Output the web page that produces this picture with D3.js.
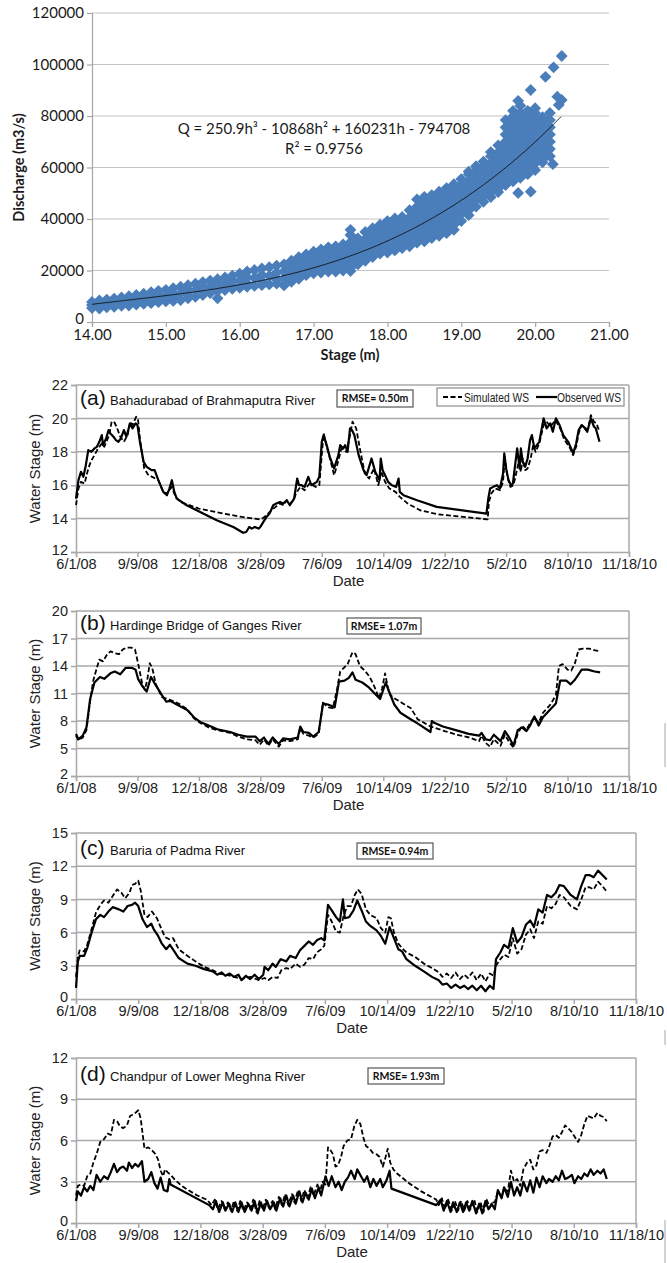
<!DOCTYPE html>
<html>
<head>
<meta charset="utf-8">
<script src="https://cdn.jsdelivr.net/npm/d3@7"></script>
<style>
  body { margin: 0; background: #fff; }
  svg { display: block; }
</style>
</head>
<body>
<script>
var width = 667, height = 1263;

// ---------- rating curve (stage m, discharge m3/s) ----------
var ratingStages = [14.0, 14.1, 14.2, 14.3, 14.4, 14.5, 14.6, 14.7, 14.8, 14.9,
  15.0, 15.1, 15.2, 15.3, 15.4, 15.5, 15.6, 15.7, 15.8, 15.9,
  16.0, 16.1, 16.2, 16.3, 16.4, 16.5, 16.6, 16.7, 16.8, 16.9,
  17.0, 17.1, 17.2, 17.3, 17.4, 17.5, 17.6, 17.7, 17.8, 17.9,
  18.0, 18.1, 18.2, 18.3, 18.4, 18.5, 18.6, 18.7, 18.8, 18.9,
  19.0, 19.1, 19.2, 19.3, 19.4, 19.5, 19.6, 19.7, 19.8, 19.9,
  20.0, 20.1, 20.2];
var ratingQ = [
  [5400, 6600, 7800], [5200, 6000, 7200, 8400], [5700, 7200, 8700], [5900, 6600, 7900, 9100], [6300, 7900, 9500],
  [6400, 7300, 8700, 10000], [6800, 8600, 10500], [7100, 8000, 9500, 11000], [7300, 9400, 11600], [7700, 8700, 10400, 12100],
  [8000, 10200, 12500], [8200, 9500, 11300, 13100], [8500, 11100, 13700], [9200, 10500, 12400, 14300], [9800, 12300, 14900],
  [10500, 11700, 13600, 15500], [11200, 13700, 16100], [9200, 12000, 13400, 15000, 16600], [12400, 14800, 17300], [12900, 14200, 16100, 18000],
  [13300, 16000, 18800], [13700, 15000, 17300, 19600], [14000, 17100, 20200], [14300, 15800, 18300, 20800], [14600, 17900, 21300],
  [14900, 16500, 19200, 21900],
  [14200, 16800, 19600, 22400], [15600, 18200, 21000, 23800], [16800, 19600, 22400, 25200], [18200, 21000, 23800, 26200],
  [18900, 19600, 22400, 25200, 27300], [19200, 21000, 23800, 26600, 28200], [19600, 22400, 25200, 28000, 29000], [19600, 21000, 23800, 26600, 29400],
  [20000, 22400, 25200, 28000, 30100], [19800, 21000, 23800, 26600, 29400, 31000, 33800, 35800], [22400, 25200, 28000, 30800, 32500],
  [23800, 26600, 29400, 32200, 35000], [25200, 28000, 30800, 33600, 36400], [26600, 29400, 32200, 35000, 37800],
  [27000, 28000, 30800, 33600, 36400, 39200], [27800, 29400, 32200, 35000, 37800, 40200], [28700, 30800, 33600, 36400, 39200, 40800],
  [29400, 32200, 35000, 37800, 40600, 43400], [30800, 33600, 36400, 39200, 42000, 44800, 47600],
  [31300, 32200, 35000, 37800, 40600, 43400, 46200, 48600], [32600, 33600, 36400, 39200, 42000, 44800, 47600, 49300],
  [33500, 35000, 37800, 40600, 43400, 46200, 49000, 50600], [34500, 36400, 39200, 42000, 44800, 47600, 50400, 52000],
  [35800, 37800, 40600, 43400, 46200, 49000, 51800, 53500], [39200, 42000, 44800, 47600, 50400, 53200, 55500],
  [41500, 43400, 46200, 49000, 51800, 54600, 57400, 58400], [44800, 47600, 50400, 53200, 56000, 58800, 60500],
  [46700, 49000, 51800, 54600, 57400, 60200, 62300], [48500, 50400, 53200, 56000, 58800, 61600, 64400, 66000],
  [50500, 51800, 54600, 57400, 60200, 63000, 65800, 68600],
  [53200, 56000, 58800, 61600, 64400, 67200, 70000, 72800, 75600, 78400],
  [54600, 57400, 60200, 63000, 65800, 68600, 71400, 74200, 77000, 79800, 82000],
  [56000, 58800, 61600, 64400, 67200, 70000, 72800, 75600, 78400, 81200, 84000],
  [57400, 60200, 63000, 65800, 68600, 71400, 74200, 77000, 79800, 82000],
  [59000, 61600, 64400, 67200, 70000, 72800, 75600, 78400, 81200, 83000],
  [62000, 63000, 65800, 68600, 71400, 74200, 77000, 79500],
  [64400, 67200, 70000, 72800, 75600, 78400, 81200]
];
var ratingOutliers = [[20.36, 103300], [20.25, 98900], [20.14, 95200], [19.94, 90100], [20.30, 87500],
  [20.36, 86200], [20.32, 84300], [19.77, 85900], [20.24, 61300], [19.94, 50600], [19.77, 50100]];
var trendCoef = [250.9, -10868, 160231, -794708];
var stageTicks = [14, 15, 16, 17, 18, 19, 20, 21];
var dischargeTicks = [0, 20000, 40000, 60000, 80000, 100000, 120000];

// ---------- water stage series: [days after 6/1/08, stage m] ----------
var dateTickDays = [0, 100, 200, 300, 400, 500, 600, 700, 800, 900];

var obsA = [[0,15.2],[4,16.3],[8,16.8],[12,16.5],[16,17.2],[20,18.1],[25,18.0],[30,18.2],[34,18.3],[38,18.6],[42,19.0],[44,18.4],[49,18.8],[53,19.3],[56,19.1],[61,18.9],[65,18.7],[69,18.6],[73,18.8],[78,19.3],[82,18.9],[88,19.7],[92,19.4],[97,19.7],[100,19.6],[104,18.6],[110,17.4],[115,17.1],[123,16.9],[128,16.9],[134,16.3],[142,15.6],[148,15.4],[152,15.8],[156,16.3],[160,15.6],[164,15.2],[180,14.8],[202,14.4],[229,13.9],[256,13.5],[272,13.15],[277,13.2],[282,13.5],[286,13.4],[291,13.5],[297,13.4],[300,13.5],[305,13.8],[310,14.1],[315,14.3],[321,14.8],[326,14.9],[332,15.0],[337,14.9],[343,15.1],[348,14.8],[355,15.2],[360,16.4],[363,16.0],[367,16.0],[372,15.9],[378,16.5],[383,16.0],[392,16.2],[396,16.5],[400,18.6],[403,19.0],[408,18.4],[413,17.7],[420,17.0],[427,17.8],[430,18.4],[435,18.2],[438,18.4],[442,18.0],[446,19.4],[449,19.3],[453,19.0],[460,17.8],[468,16.9],[473,16.6],[481,17.6],[487,16.8],[494,16.3],[496,17.6],[499,16.9],[503,16.6],[508,16.2],[514,16.0],[521,15.9],[525,16.4],[527,15.6],[533,15.4],[555,15.1],[587,14.7],[668,14.3],[671,15.2],[674,15.8],[679,15.9],[685,16.0],[690,15.8],[695,16.7],[697,17.9],[700,17.0],[704,16.3],[708,16.0],[711,16.1],[715,17.3],[718,18.2],[722,17.0],[724,18.2],[727,17.4],[731,17.1],[735,17.6],[739,18.7],[742,19.0],[746,18.2],[750,18.4],[754,18.6],[761,20.0],[766,19.4],[772,19.7],[776,19.2],[781,20.0],[787,19.6],[793,19.0],[801,18.6],[807,18.1],[809,17.9],[814,18.5],[818,19.3],[823,19.6],[829,19.4],[832,19.2],[838,20.0],[843,19.5],[846,19.4],[852,18.6]];
var simA = [[0,14.8],[4,15.8],[8,16.2],[14,16.1],[20,17.0],[24,17.4],[30,17.8],[36,18.2],[42,18.5],[46,18.3],[54,19.0],[58,19.8],[62,19.8],[66,19.5],[72,18.9],[78,18.6],[84,19.0],[88,19.8],[92,19.6],[98,20.1],[101,19.9],[104,18.8],[111,17.0],[118,16.6],[124,16.5],[134,16.3],[142,15.6],[148,15.5],[156,15.9],[162,15.3],[170,15.0],[200,14.6],[240,14.3],[270,14.1],[299,13.95],[303,14.0],[310,14.2],[318,14.5],[325,14.7],[332,14.9],[338,14.8],[343,15.1],[348,14.9],[354,15.1],[358,15.5],[365,15.9],[372,15.7],[380,16.1],[390,15.9],[396,16.0],[400,17.8],[403,19.1],[408,18.3],[414,17.5],[420,16.6],[425,17.2],[432,18.2],[440,18.0],[446,19.0],[450,19.8],[456,19.4],[462,18.2],[470,16.7],[477,16.4],[485,17.0],[492,16.0],[497,16.8],[503,16.2],[510,15.8],[520,15.6],[527,15.3],[540,14.9],[560,14.5],[590,14.25],[670,13.95],[672,15.0],[676,15.5],[682,15.8],[690,15.7],[695,16.2],[698,17.7],[702,16.5],[707,15.9],[712,16.0],[717,16.8],[721,17.5],[724,16.8],[727,17.6],[731,16.9],[735,17.0],[740,17.6],[744,18.4],[748,18.0],[754,18.5],[761,19.6],[766,19.8],[772,19.5],[780,19.9],[788,19.4],[795,18.7],[803,18.3],[809,17.8],[814,18.3],[818,19.1],[823,19.6],[830,19.3],[834,19.5],[838,20.2],[843,19.8],[847,19.7],[852,19.2]];

var obsB = [[0,6.6],[4,6.0],[11,6.4],[17,7.3],[23,10.4],[30,12.2],[39,12.8],[46,12.6],[56,13.2],[63,13.4],[72,13.1],[81,13.8],[91,13.8],[97,13.6],[101,12.6],[108,11.8],[115,11.2],[122,12.8],[129,12.0],[140,10.8],[147,10.1],[153,10.2],[167,9.7],[181,9.2],[192,8.4],[202,7.9],[216,7.5],[230,7.1],[251,6.8],[264,6.5],[278,6.3],[292,6.3],[299,5.8],[306,6.2],[313,5.5],[320,6.2],[330,5.5],[337,6.1],[348,6.0],[361,6.2],[365,7.4],[370,6.8],[379,6.7],[386,6.3],[395,6.8],[402,9.9],[410,9.8],[421,9.5],[428,12.3],[437,12.4],[444,12.7],[450,13.3],[455,12.5],[466,12.2],[476,11.7],[486,11.0],[495,10.4],[504,12.2],[509,11.3],[518,9.8],[528,8.9],[542,8.3],[559,7.6],[577,6.8],[579,8.0],[583,7.8],[597,7.4],[618,7.0],[639,6.6],[656,6.4],[660,6.7],[667,6.0],[674,5.9],[680,6.5],[691,5.8],[698,6.9],[705,6.2],[712,5.3],[719,7.0],[726,7.3],[733,6.9],[739,7.5],[746,8.5],[753,7.5],[760,8.4],[771,9.2],[781,9.9],[788,12.4],[798,12.4],[805,12.0],[812,12.5],[823,13.6],[833,13.6],[844,13.4],[853,13.3]];
var simB = [[0,6.4],[4,5.9],[11,6.2],[17,7.0],[23,10.2],[28,12.4],[33,13.6],[38,14.7],[44,14.5],[50,15.2],[56,15.6],[63,15.4],[70,15.3],[76,15.8],[82,16.0],[90,16.0],[96,15.8],[101,14.3],[108,12.0],[112,11.4],[116,12.5],[120,14.3],[124,13.8],[130,12.0],[140,10.6],[150,10.4],[167,9.9],[181,9.3],[192,8.3],[202,7.8],[216,7.3],[230,7.0],[251,6.7],[264,6.3],[278,6.0],[292,5.9],[299,5.4],[306,6.0],[313,5.3],[320,6.0],[330,5.2],[337,5.9],[348,5.8],[361,6.0],[365,7.2],[370,6.6],[379,6.4],[386,6.2],[395,6.6],[402,10.0],[410,9.5],[418,9.4],[425,11.5],[430,13.4],[436,13.8],[442,14.2],[450,15.5],[455,15.3],[462,14.0],[470,13.5],[478,12.8],[486,11.7],[493,10.5],[498,11.5],[503,13.2],[508,11.5],[512,10.8],[520,10.4],[530,10.0],[545,9.4],[556,8.2],[577,7.4],[600,6.9],[620,6.5],[640,6.2],[656,5.8],[660,6.4],[667,5.6],[674,5.2],[680,6.0],[691,5.3],[698,6.5],[705,5.7],[712,5.1],[719,6.6],[726,7.5],[733,7.0],[739,7.8],[746,8.4],[753,7.8],[760,8.9],[771,9.7],[781,10.8],[786,14.0],[792,14.2],[800,13.6],[806,13.5],[812,14.3],[818,15.8],[825,15.9],[835,15.9],[845,15.7],[853,15.6]];

var obsC = [[0,1.0],[3,3.4],[6,3.9],[13,3.9],[18,4.6],[25,6.0],[32,7.2],[39,7.6],[45,7.4],[52,7.9],[59,8.3],[69,8.1],[76,7.9],[83,8.4],[90,8.5],[95,8.7],[100,8.4],[107,7.2],[114,6.5],[121,6.8],[125,6.3],[132,5.7],[138,5.0],[145,4.5],[151,4.9],[158,4.3],[165,3.7],[179,3.2],[192,3.0],[206,2.7],[220,2.5],[227,2.2],[234,2.4],[240,2.1],[247,2.3],[254,2.0],[261,2.2],[266,1.7],[273,2.1],[280,1.8],[287,2.2],[294,1.8],[301,2.2],[303,2.9],[309,2.6],[316,3.2],[321,2.9],[329,3.6],[338,3.4],[344,3.9],[353,3.7],[360,4.4],[367,4.8],[374,5.2],[381,4.9],[387,5.3],[394,5.5],[399,5.3],[405,8.5],[411,8.0],[418,7.4],[424,7.0],[429,9.0],[432,7.3],[439,7.4],[446,8.0],[452,8.9],[459,8.0],[466,7.0],[473,6.6],[483,6.2],[490,5.7],[497,5.0],[504,6.5],[511,5.5],[518,4.5],[524,4.3],[531,3.6],[545,3.0],[559,2.5],[572,2.0],[583,1.7],[589,1.3],[596,1.4],[603,1.0],[610,1.3],[617,1.0],[624,1.2],[630,0.9],[637,1.2],[644,0.8],[651,1.2],[658,0.7],[665,1.2],[671,0.9],[675,3.6],[682,4.2],[688,4.9],[695,4.6],[702,6.4],[709,5.1],[716,5.6],[723,6.7],[730,7.1],[736,6.5],[743,8.1],[750,7.8],[757,9.4],[764,9.2],[771,9.6],[777,10.3],[784,10.2],[795,9.4],[805,9.0],[812,10.2],[819,11.2],[825,11.2],[832,11.0],[839,11.6],[846,11.2],[853,10.8]];
var simC = [[0,2.0],[3,3.8],[6,4.4],[13,4.3],[18,4.9],[25,6.3],[32,7.8],[39,8.5],[45,8.9],[52,8.7],[59,9.3],[66,9.9],[73,9.6],[79,9.1],[86,9.6],[90,10.3],[95,10.4],[100,10.7],[104,9.8],[110,7.6],[115,7.4],[122,7.9],[130,7.3],[136,6.5],[143,5.6],[150,5.4],[156,5.5],[165,4.5],[179,3.9],[192,3.4],[206,2.9],[220,2.6],[230,2.3],[240,2.2],[254,2.0],[266,1.8],[280,2.0],[294,1.7],[303,1.9],[309,1.7],[316,2.0],[324,1.9],[330,2.6],[338,2.8],[344,2.7],[353,3.2],[360,2.9],[367,3.1],[374,3.7],[381,3.6],[387,4.2],[394,4.5],[399,4.8],[405,7.6],[411,7.0],[418,6.1],[424,6.0],[430,7.5],[436,8.4],[442,8.4],[448,9.4],[453,9.9],[459,9.5],[466,8.1],[473,7.6],[483,7.3],[490,6.4],[497,6.0],[502,7.4],[506,7.3],[511,6.0],[518,5.0],[524,4.6],[531,4.2],[545,3.8],[559,3.2],[572,2.8],[583,2.4],[589,2.0],[596,2.3],[603,1.9],[610,2.4],[617,1.8],[624,2.2],[630,1.9],[637,2.4],[644,1.7],[651,2.3],[658,1.6],[665,2.3],[671,2.1],[675,3.0],[682,3.6],[688,4.0],[695,3.8],[702,5.5],[709,4.1],[716,4.5],[723,5.8],[730,6.3],[736,5.5],[743,7.0],[750,6.8],[757,8.4],[764,8.2],[771,8.6],[777,9.4],[784,9.2],[795,8.4],[805,8.1],[812,9.0],[819,10.1],[825,10.1],[832,9.9],[839,10.6],[846,10.2],[853,9.7]];

var obsD = [[0,1.6],[3,2.3],[8,2.0],[13,2.6],[18,2.3],[23,2.7],[28,2.4],[33,3.5],[39,3.0],[45,3.4],[51,3.2],[56,3.7],[61,4.3],[66,3.7],[71,4.0],[76,4.1],[82,3.8],[85,4.4],[90,4.0],[95,4.3],[100,4.1],[106,4.5],[110,3.0],[116,3.2],[121,3.7],[126,2.9],[131,2.5],[136,3.3],[141,2.4],[147,2.3],[150,3.2],[152,2.8],[214,1.3],[220,1.0],[225,1.6],[230,0.8],[236,1.5],[240,0.9],[246,1.4],[251,0.8],[256,1.5],[261,0.8],[266,1.5],[271,0.8],[277,1.4],[282,0.9],[287,1.6],[292,0.7],[297,1.5],[302,0.9],[307,1.6],[312,1.0],[318,1.5],[322,0.9],[328,1.8],[333,1.2],[338,2.0],[343,1.2],[349,2.0],[353,1.4],[359,2.3],[364,1.5],[369,2.2],[374,1.7],[379,2.5],[384,1.8],[390,2.6],[394,2.0],[401,3.4],[406,2.7],[411,3.4],[417,2.6],[422,3.0],[427,2.4],[432,3.0],[437,3.3],[442,3.8],[448,3.2],[452,3.9],[458,3.4],[463,3.0],[468,3.4],[473,2.6],[478,3.2],[483,2.7],[489,3.2],[493,2.6],[499,3.1],[504,3.8],[507,2.5],[579,1.3],[586,1.7],[591,0.9],[596,1.6],[602,0.8],[606,1.5],[612,0.8],[617,1.5],[622,0.8],[627,1.5],[632,0.9],[637,1.6],[643,0.7],[648,1.4],[653,0.7],[658,1.6],[663,1.0],[668,1.4],[673,1.0],[678,2.4],[684,1.8],[688,2.6],[694,1.9],[699,3.0],[704,2.0],[709,2.6],[714,2.0],[719,3.0],[725,2.3],[730,3.1],[735,2.2],[740,3.3],[745,2.6],[750,3.4],[756,2.9],[760,3.2],[766,3.0],[771,3.4],[776,3.1],[781,3.8],[786,3.2],[791,3.3],[797,3.5],[801,2.9],[807,3.4],[812,3.2],[817,3.6],[822,3.4],[827,3.9],[832,3.5],[838,3.8],[843,3.6],[848,3.9],[853,3.2]];
var simD = [[0,2.0],[3,2.7],[8,2.8],[13,2.7],[18,3.4],[23,3.6],[28,4.4],[33,5.0],[39,5.9],[45,6.1],[51,6.5],[56,6.4],[61,7.5],[66,7.4],[71,7.0],[76,6.9],[82,7.1],[87,7.8],[93,7.9],[100,8.2],[104,7.6],[110,5.4],[116,5.5],[122,5.3],[128,5.0],[132,4.6],[136,3.8],[140,3.4],[143,3.9],[147,3.7],[152,3.5],[160,3.1],[170,2.7],[180,2.4],[195,2.0],[210,1.7],[218,1.3],[223,1.7],[228,1.0],[234,1.6],[239,1.0],[244,1.5],[249,0.9],[254,1.6],[259,0.9],[264,1.6],[269,0.9],[275,1.5],[280,1.0],[285,1.7],[290,0.8],[295,1.6],[300,1.0],[305,1.7],[310,1.1],[316,1.6],[320,1.0],[326,1.9],[331,1.3],[336,2.1],[341,1.3],[347,2.1],[351,1.5],[357,2.4],[362,1.6],[367,2.4],[372,1.8],[377,2.6],[382,2.0],[388,2.8],[392,2.2],[396,3.0],[401,2.8],[405,5.5],[409,5.3],[413,5.0],[417,4.1],[421,4.2],[426,4.8],[430,5.6],[436,6.0],[442,6.1],[447,7.0],[452,7.5],[457,7.2],[462,6.2],[466,5.6],[472,5.4],[477,5.1],[483,5.0],[488,4.8],[493,4.1],[497,4.7],[501,5.4],[505,4.4],[510,3.9],[516,3.6],[535,2.9],[555,2.3],[579,1.7],[583,1.3],[588,1.8],[593,1.0],[598,1.7],[604,0.9],[609,1.6],[614,0.9],[619,1.6],[624,0.9],[629,1.6],[634,1.0],[640,1.7],[645,0.8],[650,1.5],[655,0.8],[660,1.7],[665,1.1],[670,1.5],[673,1.5],[678,2.3],[684,1.9],[688,2.5],[694,2.3],[699,3.8],[704,3.0],[709,3.2],[714,2.7],[719,3.9],[725,4.4],[730,4.6],[735,3.9],[740,4.2],[745,5.2],[750,5.3],[756,5.1],[760,5.5],[766,6.3],[771,6.4],[776,6.2],[781,6.6],[786,7.1],[791,6.9],[797,6.6],[801,6.3],[807,5.9],[812,6.4],[817,7.2],[822,7.8],[827,7.7],[832,7.6],[838,8.0],[843,7.8],[848,7.7],[853,7.4]];

var panelLetters = ["(a)", "(b)", "(c)", "(d)"];
var panelNames = ["Bahadurabad of Brahmaputra River", "Hardinge Bridge of Ganges River",
  "Baruria of Padma River", "Chandpur of Lower Meghna River"];
var rmseLabels = ["RMSE= 0.50m", "RMSE= 1.07m", "RMSE= 0.94m", "RMSE= 1.93m"];
var stageDomains = [[12, 22], [2, 20], [0, 15], [0, 12]];
var stageTickValues = [[12, 14, 16, 18, 20, 22], [2, 5, 8, 11, 14, 17, 20], [0, 3, 6, 9, 12, 15], [0, 3, 6, 9, 12]];
var obsSeries = [obsA, obsB, obsC, obsD];
var simSeries = [simA, simB, simC, simD];
var legendLabels = ["Simulated WS", "Observed WS"];

// ---------- drawing ----------
var svg = d3.select("body").append("svg")
    .attr("width", width)
    .attr("height", height);

var excelFont = "Lato, 'Open Sans', sans-serif";
var arialFont = "'Liberation Sans', Arial, sans-serif";

// rating curve scatter
var sx = d3.scaleLinear().domain([14, 21]).range([92, 609]);
var sy = d3.scaleLinear().domain([0, 120000]).range([322, 13]);

var top0 = svg.append("g");

top0.selectAll(".grid").data(dischargeTicks.slice(1)).enter().append("line")
    .attr("x1", sx(14)).attr("x2", sx(21))
    .attr("y1", function(d) { return sy(d); })
    .attr("y2", function(d) { return sy(d); })
    .attr("stroke", "#c3c3c3").attr("stroke-width", 1.2);

var syAxis = top0.append("g").attr("transform", "translate(" + sx(14) + ",0)")
    .call(d3.axisLeft(sy).tickValues(dischargeTicks).tickFormat(d3.format("d")).tickSize(5).tickPadding(3));
var sxAxis = top0.append("g").attr("transform", "translate(0," + sy(0) + ")")
    .call(d3.axisBottom(sx).tickValues(stageTicks).tickFormat(d3.format(".2f")).tickSize(5).tickPadding(2));
[syAxis, sxAxis].forEach(function(a) {
  a.select(".domain").attr("stroke", "#a6a6a6").attr("stroke-width", 1.2);
  a.selectAll(".tick line").attr("stroke", "#a6a6a6").attr("stroke-width", 1.2);
  a.selectAll("text").attr("font-family", excelFont).attr("font-size", 15).attr("fill", "#1a1a1a");
});
// lift the "0" label slightly, as in the source chart
syAxis.selectAll(".tick text").filter(function(d) { return d === 0; }).attr("dy", "0.1em");

var ratingPts = [];
ratingStages.forEach(function(h, i) {
  ratingQ[i].forEach(function(q) { ratingPts.push([h, q]); });
});
ratingPts = ratingPts.concat(ratingOutliers);

var diamond = d3.symbol().type(d3.symbolSquare).size(70);
top0.append("g").selectAll("path").data(ratingPts).enter().append("path")
    .attr("d", diamond)
    .attr("transform", function(d) { return "translate(" + sx(d[0]) + "," + sy(d[1]) + ") rotate(45)"; })
    .attr("fill", "#4a7ebb");

function trendQ(h) {
  return trendCoef[0] * h * h * h + trendCoef[1] * h * h + trendCoef[2] * h + trendCoef[3];
}
var trendPts = d3.range(14.0, 20.351, 0.025).map(function(h) { return [h, trendQ(h)]; });
top0.append("path")
    .datum(trendPts)
    .attr("d", d3.line().x(function(d) { return sx(d[0]); }).y(function(d) { return sy(d[1]); }))
    .attr("fill", "none").attr("stroke", "#111").attr("stroke-width", 0.9);

top0.append("text").attr("x", 324).attr("y", 134).attr("text-anchor", "middle")
    .attr("font-family", excelFont).attr("font-size", 15).attr("fill", "#1a1a1a")
    .text("Q = 250.9h\u00b3 - 10868h\u00b2 + 160231h - 794708");
top0.append("text").attr("x", 324).attr("y", 154).attr("text-anchor", "middle")
    .attr("font-family", excelFont).attr("font-size", 15).attr("fill", "#1a1a1a")
    .text("R\u00b2 = 0.9756");

top0.append("text")
    .attr("transform", "translate(24," + ((sy(0) + sy(120000)) / 2) + ") rotate(-90)")
    .attr("text-anchor", "middle")
    .attr("font-family", excelFont).attr("font-size", 14.5).attr("font-weight", "bold").attr("fill", "#1a1a1a")
    .text("Discharge (m3/s)");
top0.append("text").attr("x", 350).attr("y", 360).attr("text-anchor", "middle")
    .attr("font-family", excelFont).attr("font-size", 14.5).attr("font-weight", "bold").attr("fill", "#1a1a1a")
    .text("Stage (m)");

// water stage panels
var panelBox = [
  { top: 385, bottom: 552, left: 76, right: 629, titleDy: 20, rmse: [337, 390, 76, 17] },
  { top: 611, bottom: 776, left: 76, right: 629, titleDy: 19, rmse: [347, 618, 74, 16] },
  { top: 833, bottom: 999, left: 76, right: 636, titleDy: 22, rmse: [357, 843, 76, 16] },
  { top: 1058, bottom: 1223, left: 76, right: 636, titleDy: 23, rmse: [368, 1068, 76, 16] }
];

var startDate = new Date(2008, 5, 1);
function dayToDate(n) { return d3.timeDay.offset(startDate, n); }
var fmtDate = d3.timeFormat("%-m/%-d/%y");

panelBox.forEach(function(p, i) {
  var g = svg.append("g");
  var x = d3.scaleTime().domain([dayToDate(0), dayToDate(900)]).range([p.left, p.right]);
  var y = d3.scaleLinear().domain(stageDomains[i]).range([p.bottom, p.top]);

  g.selectAll(".grid").data(stageTickValues[i].slice(1)).enter().append("line")
      .attr("x1", p.left).attr("x2", p.right)
      .attr("y1", function(d) { return y(d); })
      .attr("y2", function(d) { return y(d); })
      .attr("stroke", "#a9a9a9").attr("stroke-width", 1.5);
  g.append("line")
      .attr("x1", p.right).attr("x2", p.right).attr("y1", p.top).attr("y2", p.bottom)
      .attr("stroke", "#a9a9a9").attr("stroke-width", 1.5);

  var ya = g.append("g").attr("transform", "translate(" + p.left + ",0)")
      .call(d3.axisLeft(y).tickValues(stageTickValues[i]).tickSize(5).tickPadding(3));
  var xa = g.append("g").attr("transform", "translate(0," + p.bottom + ")")
      .call(d3.axisBottom(x).tickValues(dateTickDays.map(dayToDate)).tickFormat(fmtDate).tickSize(5).tickPadding(2));
  [ya, xa].forEach(function(a) {
    a.select(".domain").attr("stroke", "#a9a9a9").attr("stroke-width", 1.5);
    a.selectAll(".tick line").attr("stroke", "#a9a9a9").attr("stroke-width", 1.5);
    a.selectAll("text").attr("font-family", arialFont).attr("font-size", 14.5).attr("fill", "#222");
  });
  // bottom stage label sits a touch higher, clear of the date labels
  ya.selectAll(".tick text").filter(function(d) { return d === stageDomains[i][0]; }).attr("dy", "0.15em");

  var line = d3.line()
      .x(function(d) { return x(dayToDate(d[0])); })
      .y(function(d) { return y(d[1]); });

  g.append("path").datum(simSeries[i]).attr("d", line)
      .attr("fill", "none").attr("stroke", "#000").attr("stroke-width", 1.8)
      .attr("stroke-dasharray", "5,2.5").attr("stroke-linejoin", "round");
  g.append("path").datum(obsSeries[i]).attr("d", line)
      .attr("fill", "none").attr("stroke", "#000").attr("stroke-width", 2.2)
      .attr("stroke-linejoin", "round");

  g.append("text").attr("x", p.left + 4).attr("y", p.top + p.titleDy)
      .attr("font-family", arialFont).attr("font-size", 21).attr("fill", "#111")
      .text(panelLetters[i]);
  g.append("text").attr("x", p.left + 34).attr("y", p.top + p.titleDy)
      .attr("font-family", arialFont).attr("font-size", 13).attr("fill", "#111")
      .text(panelNames[i]);

  var r = p.rmse;
  g.append("rect").attr("x", r[0]).attr("y", r[1]).attr("width", r[2]).attr("height", r[3])
      .attr("fill", "#fff").attr("stroke", "#555").attr("stroke-width", 1.2);
  g.append("text").attr("x", r[0] + r[2] / 2).attr("y", r[1] + r[3] / 2 + 3.8)
      .attr("text-anchor", "middle")
      .attr("font-family", excelFont).attr("font-size", 10.5).attr("font-weight", "bold").attr("fill", "#111")
      .text(rmseLabels[i]);

  g.append("text")
      .attr("transform", "translate(40," + ((p.top + p.bottom) / 2) + ") rotate(-90)")
      .attr("text-anchor", "middle")
      .attr("font-family", arialFont).attr("font-size", 15).attr("fill", "#222")
      .text("Water Stage (m)");
  g.append("text").attr("x", (p.left + p.right) / 2 - 4).attr("y", p.bottom + 34)
      .attr("text-anchor", "middle")
      .attr("font-family", arialFont).attr("font-size", 15).attr("fill", "#222")
      .text("Date");

  if (i === 0) {
    var lg = g.append("g");
    lg.append("rect").attr("x", 437).attr("y", 388).attr("width", 187).attr("height", 18)
        .attr("fill", "#fff").attr("stroke", "#8c8c8c").attr("stroke-width", 1.2);
    lg.append("line").attr("x1", 443).attr("x2", 462).attr("y1", 397).attr("y2", 397)
        .attr("stroke", "#000").attr("stroke-width", 1.8).attr("stroke-dasharray", "5,2.5");
    lg.append("text").attr("x", 464).attr("y", 401.5)
        .attr("font-family", arialFont).attr("font-size", 12).attr("fill", "#222")
        .attr("textLength", 65).attr("lengthAdjust", "spacingAndGlyphs")
        .text(legendLabels[0]);
    lg.append("line").attr("x1", 536).attr("x2", 557).attr("y1", 397).attr("y2", 397)
        .attr("stroke", "#000").attr("stroke-width", 2.2);
    lg.append("text").attr("x", 557).attr("y", 401.5)
        .attr("font-family", arialFont).attr("font-size", 12).attr("fill", "#222")
        .attr("textLength", 64).attr("lengthAdjust", "spacingAndGlyphs")
        .text(legendLabels[1]);
  }
});

// page edge marks from the scanned source
[[723, 44], [1030, 15], [1220, 43]].forEach(function(m) {
  svg.append("rect").attr("x", 664).attr("y", m[0]).attr("width", 2).attr("height", m[1]).attr("fill", "#d4d4d4");
});
</script>
</body>
</html>
